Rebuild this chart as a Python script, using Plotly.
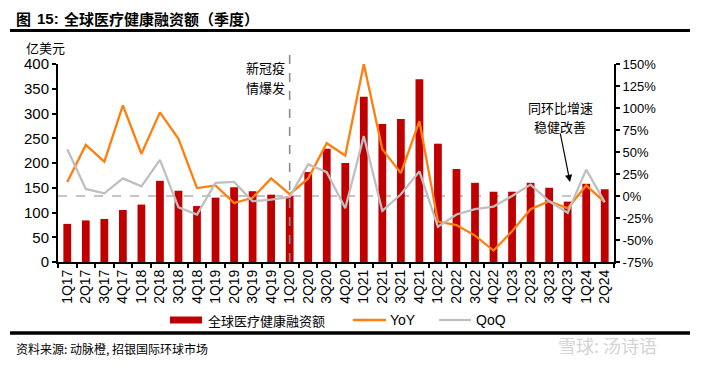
import plotly.graph_objects as go

# ---------------- data ----------------
quarters = ["1Q17", "2Q17", "3Q17", "4Q17", "1Q18", "2Q18", "3Q18", "4Q18",
            "1Q19", "2Q19", "3Q19", "4Q19", "1Q20", "2Q20", "3Q20", "4Q20",
            "1Q21", "2Q21", "3Q21", "4Q21", "1Q22", "2Q22", "3Q22", "4Q22",
            "1Q23", "2Q23", "3Q23", "4Q23", "1Q24", "2Q24"]
funding = [77, 84, 87, 105, 116, 164, 144, 113,
           130, 151, 143, 136, 133, 182, 229, 200,
           334, 279, 289, 369, 239, 188, 160, 142,
           142, 160, 150, 122, 158, 147]
yoy = [16, 58, 39, 103, 48, 95, 65, 9,
       12, -8, -2, 20, 2, 20, 60, 46,
       150, 53, 26, 85, -29, -33, -45, -62,
       -40, -15, -6, -14, 12, -7]
qoq = [53, 8, 3, 20, 11, 41, -13, -21,
       15, 16, -6, -4, -1, 36, 27, -14,
       68, -17, 2, 28, -35, -21, -15, -12,
       0, 13, -6, -19, 30, -7]
left_ticks = [0, 50, 100, 150, 200, 250, 300, 350, 400]
right_ticks = [-75, -50, -25, 0, 25, 50, 75, 100, 125, 150]

# ---------------- layout geometry (window pixels) ----------------
WIN_W, WIN_H = 701, 365
OFF = 8                      # default page body margin
W, H = WIN_W - OFF, WIN_H - OFF
L, R, T, B = 58, 614, 64, 262


def px(x):
    return (x - L) / (R - L)


def py(y):
    return (B - y) / (B - T)


BAR = "#C00000"
ORANGE = "#FF7F0E"
GREY = "#BFBFBF"
CJK = "Noto Sans CJK SC"
LAT = "Arial, Liberation Sans"

fig = go.Figure()
fig.add_trace(go.Bar(x=quarters, y=funding, name="全球医疗健康融资额",
                     marker=dict(color=BAR, line=dict(width=0)), width=0.42,
                     yaxis="y"))
fig.add_trace(go.Scatter(x=quarters, y=yoy, name="YoY", mode="lines",
                         line=dict(color=ORANGE, width=2.3), yaxis="y2"))
fig.add_trace(go.Scatter(x=quarters, y=qoq, name="QoQ", mode="lines",
                         line=dict(color=GREY, width=2.3), yaxis="y2"))

axis_common = dict(showline=True, linecolor="black", linewidth=2,
                   ticks="outside", tickcolor="black", ticklen=4, tickwidth=1.5,
                   showgrid=False, zeroline=False, automargin=False)

fig.update_layout(
    width=W, height=H,
    margin=dict(l=L - OFF, r=WIN_W - R, t=T - OFF, b=WIN_H - B, autoexpand=False),
    paper_bgcolor="white", plot_bgcolor="white",
    showlegend=False,
    bargap=0.5,
    xaxis=dict(type="category", range=[-0.5, len(quarters) - 0.5],
               tickangle=-90, tickson="boundaries",
               tickfont=dict(family=LAT, size=14, color="black"),
               **axis_common),
    yaxis=dict(range=[0, 400], tickvals=left_ticks,
               tickfont=dict(family=LAT, size=15, color="black"),
               **axis_common),
    yaxis2=dict(range=[-75, 150], tickvals=right_ticks,
                ticktext=[f"{v}%" for v in right_ticks],
                overlaying="y", side="right",
                tickfont=dict(family=LAT, size=13, color="black"),
                **axis_common),
)

shapes = []
# 0% reference line
shapes.append(dict(type="line", xref="paper", x0=0, x1=1, yref="y2", y0=0, y1=0,
                   line=dict(color="#8C8C8C", width=1.2, dash="dash"), layer="below"))
# COVID outbreak line
shapes.append(dict(type="line", xref="x", x0="1Q20", x1="1Q20", yref="paper",
                   y0=0, y1=py(53),
                   line=dict(color="#8C8C8C", width=1.6, dash="dash")))
# title rule and bottom rule
shapes.append(dict(type="line", xref="paper", yref="paper",
                   x0=px(10), x1=px(690), y0=py(30.5), y1=py(30.5),
                   line=dict(color="black", width=3)))
shapes.append(dict(type="line", xref="paper", yref="paper",
                   x0=px(10), x1=px(690), y0=py(333), y1=py(333),
                   line=dict(color="black", width=3.5)))
# legend swatches
shapes.append(dict(type="rect", xref="paper", yref="paper",
                   x0=px(170), x1=px(202), y0=py(316.5), y1=py(323.5),
                   fillcolor=BAR, line=dict(width=0)))
shapes.append(dict(type="line", xref="paper", yref="paper",
                   x0=px(353), x1=px(386), y0=py(320), y1=py(320),
                   line=dict(color=ORANGE, width=2.3)))
shapes.append(dict(type="line", xref="paper", yref="paper",
                   x0=px(439), x1=px(471), y0=py(320), y1=py(320),
                   line=dict(color=GREY, width=2.3)))
fig.update_layout(shapes=shapes)


def txt(text, x, y, size, family=CJK, xanchor="left", color="black", bold=False):
    if bold:
        text = f"<b>{text}</b>"
    return dict(text=text, xref="paper", yref="paper", x=px(x), y=py(y),
                xanchor=xanchor, yanchor="middle", showarrow=False,
                font=dict(family=family, size=size, color=color))


ann = [
    txt("图", 14, 19, 15, bold=True),
    txt("15:", 35, 19, 15, family=LAT, bold=True),
    txt("全球医疗健康融资额（季度）", 62, 19, 15, bold=True),
    txt("亿美元", 24, 48, 13),
    txt("新冠疫", 287, 67, 13, xanchor="right"),
    txt("情爆发", 287, 87, 13, xanchor="right"),
    txt("同环比增速", 560, 107, 13, xanchor="center"),
    txt("稳健改善", 560, 126, 13, xanchor="center"),
    txt("全球医疗健康融资额", 206, 320, 13),
    txt("YoY", 388, 320, 14, family=LAT),
    txt("QoQ", 474, 320, 14, family=LAT),
    txt("资料来源: 动脉橙, 招银国际环球市场", 14, 348, 12),
    txt("雪球: 汤诗语", 556, 345, 18, color="#D4D4D4"),
    dict(text="", xref="paper", yref="paper", x=px(570), y=py(182),
         ax=-10, ay=-50, showarrow=True, arrowhead=2, arrowsize=1.2,
         arrowwidth=1.2, arrowcolor="black"),
]
fig.update_layout(annotations=ann)

fig.write_html("out.html")
